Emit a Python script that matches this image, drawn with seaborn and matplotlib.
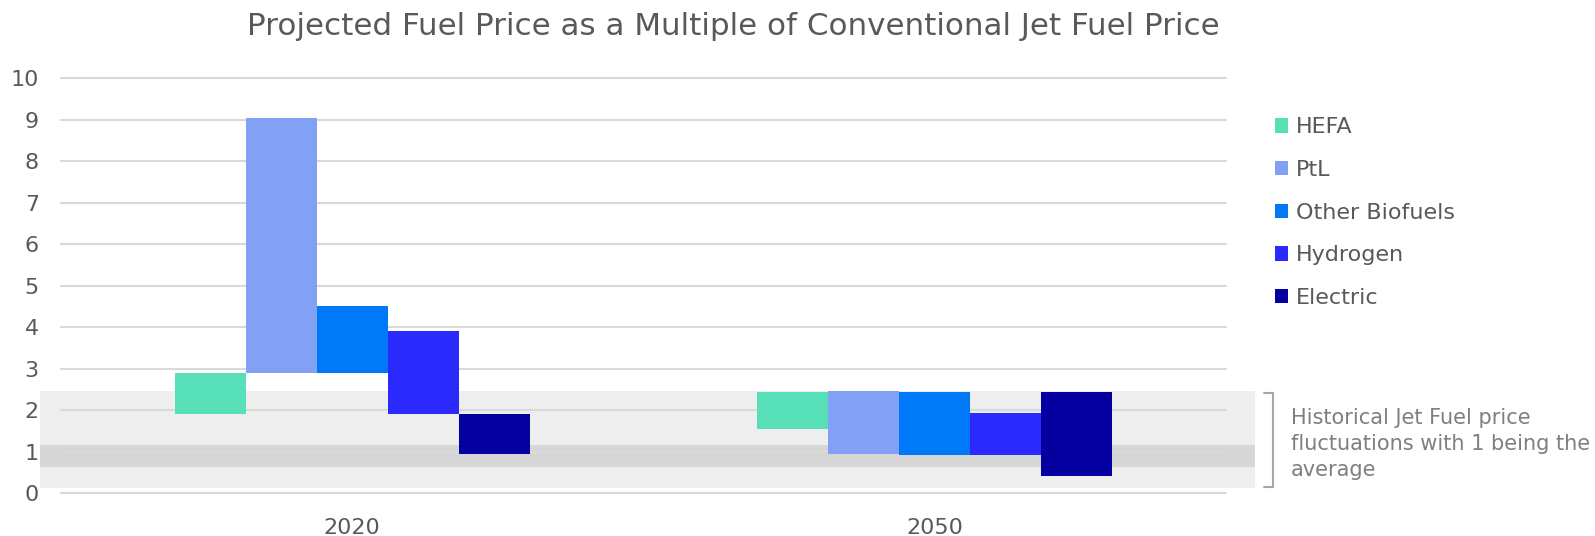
import matplotlib
matplotlib.use("Agg")
import matplotlib.pyplot as plt
import seaborn as sns
import pandas as pd
from matplotlib.patches import Patch
from matplotlib.lines import Line2D

# Price ranges (multiple of conventional jet fuel price)
years = ["2020", "2050"]
fuels = ["HEFA", "PtL", "Other Biofuels", "Hydrogen", "Electric"]
low_2020 = [1.9, 2.9, 2.9, 1.9, 0.95]
high_2020 = [2.9, 9.05, 4.5, 3.9, 1.9]
low_2050 = [1.55, 0.95, 0.92, 0.92, 0.42]
high_2050 = [2.45, 2.47, 2.45, 1.93, 2.45]
colors = ["#57DFB7", "#82A0F4", "#0079F9", "#2A2AFF", "#0600A0"]
y_ticks = list(range(0, 11))

# Historical jet fuel price band
hist_range = (0.12, 2.47)
hist_core = (0.63, 1.17)
note = "Historical Jet Fuel price\nfluctuations with 1 being the\naverage"
title = "Projected Fuel Price as a Multiple of Conventional Jet Fuel Price"

rows = []
for yr, lo, hi in [("2020", low_2020, high_2020), ("2050", low_2050, high_2050)]:
    for f, l, h in zip(fuels, lo, hi):
        rows.append({"Year": yr, "Fuel": f, "Low": l, "High": h})
df = pd.DataFrame(rows)

sns.set_theme(style="white")
plt.rcParams["font.family"] = ["DejaVu Sans"]

text_color = "#595959"
fig = plt.figure(figsize=(15.95, 5.36), dpi=100)
ax = fig.add_axes([0.03824, 0.07985, 0.7304, 0.7743])

sns.barplot(data=df, x="Year", y="High", hue="Fuel", order=years,
            hue_order=fuels, palette=colors, width=0.61, saturation=1,
            errorbar=None, legend=False, ax=ax, zorder=2)

# Float each bar between its low and high value
for container, fuel in zip(ax.containers, fuels):
    for bar, yr in zip(container, years):
        row = df[(df.Fuel == fuel) & (df.Year == yr)].iloc[0]
        bar.set_y(row.Low)
        bar.set_height(row.High - row.Low)
        bar.set_linewidth(0)

# Historical fluctuation band, extending a little past the plot area
ax.axhspan(*hist_range, xmin=-0.018, xmax=1.0249, facecolor="#eeeeee",
           edgecolor="none", zorder=0.2, clip_on=False)
ax.axhspan(*hist_core, xmin=-0.018, xmax=1.0249, facecolor="#d6d6d6",
           edgecolor="none", zorder=0.3, clip_on=False)

ax.set_ylim(0, 10)
ax.set_yticks(y_ticks)
ax.set_axisbelow(True)
ax.yaxis.grid(True, color="#d9d9d9", linewidth=1.5)
ax.xaxis.grid(False)
for gl in ax.get_ygridlines():
    gl.set_clip_on(False)
for s in ax.spines.values():
    s.set_visible(False)
ax.set_xlabel("")
ax.set_ylabel("")
ax.tick_params(axis="y", labelsize=16, colors=text_color, length=0, pad=16)
ax.tick_params(axis="x", labelsize=16, colors=text_color, length=0, pad=18)

# Legend
handles = [Patch(facecolor=c, edgecolor="none") for c in colors]
fig.legend(handles, fuels, loc="upper left", bbox_to_anchor=(0.7994, 0.781),
           frameon=False, fontsize=16, handlelength=0.6, handleheight=0.6,
           handletextpad=0.35, labelspacing=1.02, labelcolor=text_color,
           borderpad=0, borderaxespad=0)

# Bracket and note for the historical band
fig.add_artist(Line2D([1264 / 1595, 1273 / 1595, 1273 / 1595, 1264 / 1595],
                      [1 - 393 / 536, 1 - 393 / 536, 1 - 487 / 536, 1 - 487 / 536],
                      color="#a6a6a6", linewidth=1.5, transform=fig.transFigure))
fig.text(1291 / 1595, 1 - 408 / 536, note, ha="left", va="top", fontsize=15,
         color="#7f7f7f", linespacing=1.36)

fig.text(0.46, 0.951, title, ha="center", va="center", fontsize=22.3,
         color=text_color)

fig.savefig("out.png", dpi=100)
